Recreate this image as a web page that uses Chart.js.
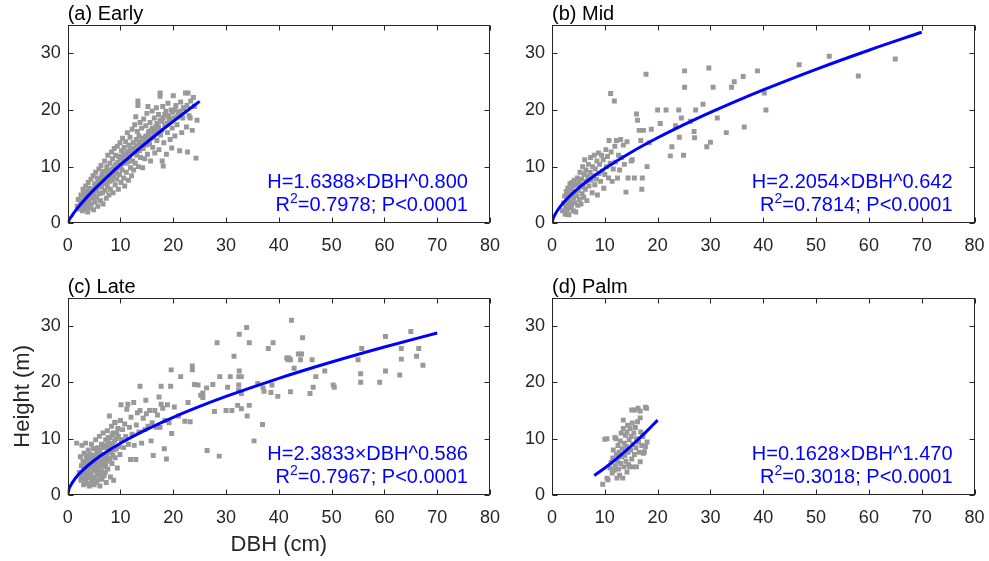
<!DOCTYPE html>
<html>
<head>
<meta charset="utf-8">
<title>Height-DBH allometry</title>
<script src="https://cdn.jsdelivr.net/npm/chart.js@4.4.1/dist/chart.umd.min.js"></script>
<style>
  body { margin: 0; background: #fff; overflow: hidden; }
  canvas { position: absolute; }
</style>
</head>
<body>
<canvas id="early" width="500" height="262" style="left:0;top:0;width:500px;height:262px"></canvas>
<canvas id="mid" width="489" height="262" style="left:500px;top:0;width:489px;height:262px"></canvas>
<canvas id="late" width="500" height="299" style="left:0;top:262px;width:500px;height:299px"></canvas>
<canvas id="palm" width="489" height="299" style="left:500px;top:262px;width:489px;height:299px"></canvas>
<script>
// --- tick labels and text ---
const dbhTicks = [0, 10, 20, 30, 40, 50, 60, 70, 80];
const heightTicks = [0, 10, 20, 30];
const panelTitles = ['(a) Early', '(b) Mid', '(c) Late', '(d) Palm'];
const fitEquations = ['H=1.6388\u00D7DBH^0.800', 'H=2.2054\u00D7DBH^0.642', 'H=2.3833\u00D7DBH^0.586', 'H=0.1628\u00D7DBH^1.470'];
const fitStats = ['=0.7978; P<0.0001', '=0.7814; P<0.0001', '=0.7967; P<0.0001', '=0.3018; P<0.0001'];

// --- (a) Early ---
const earlyDbh = [
  1.8,2.0,2.2,2.4,2.5,2.6,2.8,2.9,3.0,3.0, 3.2,3.3,3.4,3.5,3.6,3.7,3.8,3.9,4.0,4.1, 4.2,4.3,4.4,4.5,4.6,4.7,4.8,4.9,
  5.0,5.1,5.2,5.3,5.4,5.5,5.6,5.7,5.8,5.9, 6.0,6.1,6.2,6.3,6.4,6.5,6.6,6.7,6.8,6.9, 7.0,7.1,7.2,7.3,7.4,7.5,7.6,7.7,7.8,7.9,
  8.0,8.1,8.2,8.3,8.4,8.5,8.6,8.7,8.8,8.9, 9.0,9.1,9.2,9.3,9.4,9.5,9.6,9.7,9.8,9.9, 10.0,10.1,10.2,10.3,10.4,10.5,10.6,10.7,10.8,10.9,
  11.0,11.1,11.2,11.3,11.4,11.5,11.6,11.7,11.8,11.9, 12.0,12.1,12.2,12.3,12.4,12.5,12.6,12.7,12.8,12.9, 13.0,13.1,13.2,13.3,13.3,13.4,13.5,13.6,13.7,13.8, 13.9,
  14.0,14.2,14.3,14.4,14.5,14.6,14.8,14.9,15.0,15.1, 15.2,15.3,15.5,15.6,15.7,15.9,16.0,16.1,16.3,16.4, 16.5,16.7,16.8,16.9,
  17.0,17.2,17.3,17.5,17.5,17.6,17.8,17.9,18.0,18.1, 18.2,18.4,18.6,18.7,18.9,19.0,19.2,19.4,19.6,19.7, 19.8,
  20.0,20.1,20.3,20.5,20.7,21.0,21.2,21.4,21.6,21.8, 22.0,22.3,22.5,22.7,22.8,23.0,23.3,23.6,24.0,24.3, 24.5,
  2.3,2.7,3.1,3.4,3.8,4.2,4.5,4.8,5.2,5.5, 5.8,6.1,6.4,6.7,7.0,7.3,7.6,7.9,8.2,8.5,
  8.8,9.1,9.4,9.7,10.0,10.3,10.6,10.9,11.2,11.5, 11.8,12.1,12.4,12.7,13.0,13.3,13.6,13.9,14.2,14.5,
  14.8,15.1,15.4,15.7,16.0,16.3,16.6,16.9,17.2,17.5, 17.8,18.1,18.4,18.8,19.1,19.5,19.9,20.3,20.8,21.3,
  21.9,22.6,23.2,23.8
];
const earlyHeight = [
  3.0,4.2,2.5,3.4,5.0,4.0,2.2,6.0,3.1,5.2, 4.0,2.6,6.6,4.6,3.4,5.6,2.0,7.2,4.0,6.2, 2.8,5.0,7.8,3.4,6.0,4.4,8.4,2.4,
  5.4,7.0,3.8,9.0,6.2,4.6,8.0,3.0,6.8,9.6, 5.2,7.6,4.0,10.2,6.4,8.6,5.4,3.4,9.2,7.2, 11.0,5.8,8.0,4.4,10.0,6.6,12.0,8.8,5.0,7.4,
  10.6,6.0,9.4,12.6,7.6,11.4,5.4,8.4,13.2,10.0, 6.8,12.0,9.0,7.8,13.6,10.8,6.0,11.8,8.6,14.2, 10.2,7.2,12.8,9.4,15.0,11.2,8.0,13.4,6.6,10.6,
  14.4,9.0,12.2,16.0,10.8,7.6,13.8,11.6,15.2,9.8, 12.8,8.4,16.6,11.0,14.2,9.4,13.0,17.4,10.6,18.8, 14.8,12.0,16.2,21.6,20.8,10.0,15.4,12.8,17.8,11.6, 14.0,
  16.8,9.8,13.2,18.4,15.0,11.4,17.2,13.8,19.4,12.2, 20.6,15.8,14.0,17.8,11.0,16.4,19.8,13.4,15.2,18.6, 12.4,17.0,20.4,14.6,
  16.2,19.2,13.0,23.0,22.4,15.6,18.0,11.0,20.6,10.1, 14.2,17.2,19.8,12.2,16.0,21.2,18.4,14.8,20.0,13.3, 16.8,
  22.5,18.6,15.4,20.8,17.4,19.6,12.8,21.4,16.0,18.6, 20.2,23.0,17.0,12.6,23.0,19.0,21.6,16.4,20.6,11.5, 18.2,
  3.0,3.6,4.4,3.8,5.2,4.6,5.6,5.0,6.4,5.8, 7.4,6.6,7.8,7.0,8.2,7.0,9.2,8.4,8.0,9.6,
  8.8,10.4,9.8,10.0,11.6,10.6,12.0,11.0,12.6,11.8, 13.0,12.4,13.2,12.6,13.8,13.0,14.4,13.6,15.0,14.2,
  15.4,14.6,16.2,15.0,16.8,16.0,16.4,17.6,17.0,18.2, 16.4,18.6,19.2,17.6,19.0,18.0,19.6,20.0,18.8,19.8,
  20.4,20.8,18.6,22.2
];
const earlyFitDbh = [0, 0.25, 0.5, 1, 2, 3, 4, 5, 6, 8, 10, 12, 14, 16, 18, 20, 22, 25];
const earlyFitHeight = [0, 0.54, 0.94, 1.64, 2.85, 3.95, 4.97, 5.94, 6.87, 8.65, 10.34, 11.96, 13.53, 15.06, 16.55, 18.00, 19.43, 21.52];

// --- (b) Mid ---
const midDbh = [
  2.0,2.2,2.4,2.5,2.6,2.7,2.8,2.9,3.0,3.0, 3.1,3.2,3.3,3.4,3.5,3.5,3.6,3.7,3.8,3.9,
  4.0,4.0,4.1,4.2,4.3,4.4,4.5,4.6,4.7,4.8, 4.9,5.0,5.1,5.2,5.3,5.4,5.5,5.6,5.7,5.8,
  5.9,6.0,6.1,6.2,6.3,6.4,6.5,6.6,6.8,6.9, 7.0,7.2,7.3,7.4,7.6,7.7,7.8,8.0,8.1,8.2,
  8.4,8.5,8.6,8.8,8.9,9.0,9.2,9.4,9.5,9.7, 9.8,10.0,10.2,10.3,10.5,10.7,10.8,11.0,11.1,11.2,
  11.4,11.6,11.8,11.9,12.0,12.2,12.4,12.6,12.8,13.0, 13.2,13.5,13.7,14.0,14.2,14.4,15.0,15.2,15.6,16.0,
  16.2,16.5,16.8,17.0,17.1,17.3,17.8,18.0,18.4,18.8, 20.0,20.5,21.6,22.4,22.7,23.4,24.0,24.1,24.5,24.9,
  25.1,25.1,26.2,26.9,27.0,27.2,28.6,29.3,29.7,30.0, 30.5,31.3,33.0,34.0,34.5,36.2,36.4,38.9,40.2,40.5,
  46.8,52.5,58.0,65.0
];
const midHeight = [
  2.2,3.6,4.8,1.6,3.0,5.6,4.2,2.4,6.2,3.4, 4.6,1.5,5.2,7.0,2.8,4.0,6.0,3.2,7.2,5.0,
  2.2,6.6,4.4,7.6,3.6,5.6,2.0,6.8,4.8,8.0, 3.2,5.8,7.2,4.2,9.0,6.4,3.4,7.8,5.2,10.0,
  6.8,4.6,8.6,11.2,6.0,9.4,7.4,4.0,8.2,10.4, 6.6,9.0,11.6,7.6,5.4,10.0,8.4,12.0,6.8,9.6,
  7.8,11.0,5.0,12.4,8.8,10.4,7.4,12.0,9.2,11.2, 6.2,8.6,13.0,10.0,11.8,8.0,14.6,10.6,22.9,12.6,
  7.4,9.6,21.6,13.6,10.8,14.6,8.0,12.0,9.4,14.8, 11.6,13.8,10.4,5.5,14.4,8.0,11.0,11.2,8.0,19.3,
  18.2,16.4,14.6,6.0,8.0,16.4,26.3,10.0,14.2,16.6, 20.0,17.6,20.0,11.9,13.5,17.2,20.0,15.2,18.6,12.0,
  26.9,24.0,18.0,16.2,15.1,20.0,21.0,13.5,27.4,14.3, 24.0,18.6,16.0,24.0,25.0,25.9,17.0,26.9,23.0,20.0,
  28.0,29.5,26.0,29.0
];
const midFitDbh = [0, 0.25, 0.5, 1, 2, 3, 5, 7, 10, 15, 20, 25, 30, 35, 40, 50, 60, 70];
const midFitHeight = [0, 0.91, 1.41, 2.21, 3.44, 4.47, 6.20, 7.69, 9.67, 12.55, 15.10, 17.42, 19.58, 21.62, 23.55, 27.18, 30.55, 33.72];

// --- (c) Late ---
const lateDbh = [
  1.7,2.2,2.4,2.5,2.6,2.7,2.8,2.9,3.0,3.0, 3.1,3.2,3.3,3.4,3.5,3.6,3.7,3.8,3.9,4.0,
  4.0,4.1,4.2,4.3,4.4,4.5,4.6,4.7,4.8,4.9, 5.0,5.0,5.1,5.2,5.3,5.4,5.5,5.6,5.7,5.8,
  5.9,6.0,6.0,6.1,6.2,6.3,6.4,6.5,6.6,6.7, 6.8,6.9,7.0,7.1,7.2,7.3,7.4,7.5,7.6,7.7,
  7.8,7.9,8.0,8.1,8.2,8.3,8.4,8.5,8.6,8.7, 8.8,8.9,9.0,9.0,9.2,9.4,9.5,9.7,9.9,10.0,
  10.1,10.2,10.4,10.6,10.8,11.0,11.2,11.4,11.5,11.7, 11.9,12.0,12.2,12.5,12.6,12.9,13.0,13.2,13.5,13.7,
  13.7,14.0,14.3,14.6,14.8,14.9,15.2,15.5,15.8,16.0, 16.2,16.5,16.8,17.0,17.3,17.5,17.7,17.7,18.0,18.3,
  18.4,18.7,18.9,19.2,19.5,19.6,19.7,20.2,21.0,21.4, 22.2,22.8,23.2,23.6,23.6,24.0,24.7,25.2,25.6,25.6,
  26.3,26.4,27.5,27.8,28.3,28.7,28.8,30.0,30.3,30.8, 31.1,31.5,32.2,32.4,32.4,32.4,32.5,32.5,32.9,32.9,
  32.9,33.9,34.0,34.4,34.4,35.3,36.0,36.9,37.0,37.2, 38.0,38.5,38.7,38.9,39.8,41.5,41.7,41.9,42.2,42.2,
  42.4,42.9,43.7,44.1,44.3,44.5,45.9,46.3,46.5,47.0, 48.7,50.3,50.5,55.0,55.5,55.5,55.7,59.1,60.2,60.2,
  62.9,63.2,63.2,65.0,66.1,66.5,67.3,
  3.2,3.6,4.2,4.6,5.2,5.6,6.2,6.6,7.2,7.8, 3.4,4.4,5.4,5.8,6.8,7.6,8.0,8.4,9.2,9.6,
  2.6,2.9,3.1,3.3,3.5,3.7,3.9,4.1,4.3,4.5, 4.7,4.9,5.1,5.3,5.5,5.7,5.9,6.1,6.3,6.5,
  6.7,6.9,7.1,7.3,7.5,7.7,8.1,8.5,8.9,9.3
];
const lateHeight = [
  9.2,4.0,6.8,2.6,5.2,8.8,3.4,6.0,1.8,4.6, 7.4,2.8,5.6,9.2,3.8,6.6,2.0,4.8,8.0,3.0,
  6.0,1.6,5.2,7.2,3.6,9.0,2.4,6.4,4.4,8.2, 1.8,5.6,3.2,7.0,9.8,4.2,6.2,2.6,8.4,5.0,
  3.6,7.6,10.4,1.6,6.0,4.2,9.0,2.8,7.2,11.0, 5.0,3.4,8.4,6.2,9.8,2.2,7.0,11.4,4.6,8.8,
  6.4,14.0,10.2,3.2,7.6,12.2,5.6,9.2,11.0,2.6, 8.0,12.8,6.6,12.9,10.0,4.8,11.8,8.6,7.2,13.2,
  16.0,9.8,11.6,8.4,12.6,10.4,15.2,16.1,9.0,12.0, 6.3,13.8,10.8,16.4,8.8,6.3,12.4,14.6,11.2,19.3,
  15.0,9.2,13.6,11.6,16.8,14.4,12.2,15.0,9.6,12.8, 7.0,15.0,12.0,14.2,17.4,12.0,19.3,16.1,15.4,8.2,
  13.2,6.4,16.0,12.8,19.3,22.2,10.9,15.6,14.0,21.0, 13.1,16.4,13.0,22.9,22.2,19.6,19.5,17.7,17.3,18.1,
  19.0,7.9,19.6,14.8,27.0,6.9,21.0,15.0,19.1,21.0, 15.0,24.6,15.9,21.0,19.5,18.6,28.5,22.0,21.0,18.0,
  15.3,29.7,14.0,27.0,15.9,9.6,19.8,12.5,19.0,18.4, 26.0,18.2,19.5,27.0,17.5,24.3,24.0,24.3,24.0,18.3,
  31.0,22.5,25.0,24.0,25.0,27.9,18.0,24.0,19.1,21.0, 22.0,19.5,19.1,24.0,21.5,20.0,26.0,20.0,28.1,22.0,
  21.3,26.0,24.1,29.0,24.6,26.0,23.0,
  4.2,5.0,3.8,5.4,4.6,5.8,3.0,5.8,5.2,8.0, 2.2,2.0,2.2,7.2,6.8,9.6,6.4,10.6,8.2,10.4,
  3.0,4.0,5.8,3.6,7.0,4.2,5.4,3.4,6.4,4.8, 3.0,6.8,5.0,2.4,7.6,4.0,6.4,8.0,3.4,5.4,
  8.6,6.0,4.0,8.8,6.0,10.2,8.6,7.0,9.6,11.0
];
const lateFitDbh = [0, 0.25, 0.5, 1, 2, 3, 5, 7, 10, 15, 20, 25, 30, 40, 50, 60, 70];
const lateFitHeight = [0, 1.06, 1.59, 2.38, 3.58, 4.54, 6.12, 7.45, 9.19, 11.65, 13.79, 15.72, 17.49, 20.70, 23.59, 26.25, 28.73];

// --- (d) Palm ---
const palmDbh = [
  9.6,10.0,10.4,10.4,10.6,11.0,11.2,11.4,11.5,11.6, 11.8,11.9,12.0,12.1,12.2,12.3,12.4,12.5,12.6,12.7,
  12.8,12.9,13.0,13.1,13.2,13.3,13.4,13.5,13.5,13.6, 13.7,13.8,13.9,14.0,14.1,14.2,14.2,14.3,14.4,14.5,
  14.6,14.7,14.8,14.9,15.0,15.1,15.1,15.2,15.3,15.4, 15.5,15.6,15.7,15.8,15.9,16.0,16.0,16.2,16.3,16.4,
  16.5,16.7,16.7,16.7,16.8,17.0,17.2,17.3,17.5,17.7, 17.7,17.9,18.0
];
const palmHeight = [
  1.9,9.9,3.0,10.0,2.7,4.8,5.8,3.9,6.6,8.0, 4.4,10.2,5.2,10.0,7.2,3.0,6.0,8.8,4.6,7.6,
  3.5,9.6,5.6,11.0,6.8,8.2,3.0,13.3,11.8,5.0, 9.2,7.0,10.6,6.0,8.6,4.1,11.2,12.4,7.6,5.4,
  9.8,5.0,11.8,8.0,10.4,15.1,6.4,12.8,9.0,5.0, 11.0,7.2,15.1,12.0,8.4,10.0,5.0,13.0,15.4,9.4,
  7.6,14.9,13.7,5.9,11.2,8.8,10.4,7.4,7.7,8.6, 15.6,15.4,9.4
];
const palmFitDbh = [8, 10, 12, 14, 16, 18, 20];
const palmFitHeight = [3.46, 4.80, 6.28, 7.88, 9.59, 11.40, 13.31];

const FONT = '"Liberation Sans", Arial, Helvetica, sans-serif';
const INK = '#262626';

const toPoints = (xs, ys) => xs.map((x, i) => ({ x: x, y: ys[i] }));

// box, inward ticks, panel title and fit text
const panelDecor = {
    id: 'panelDecor',
    afterDraw(chart, args, opts) {
        const { ctx, chartArea: a, scales: { x, y } } = chart;
        const L = Math.round(a.left) + 0.5, R = Math.round(a.right) - 0.5;
        const T = Math.round(a.top) + 0.5, B = Math.round(a.bottom) - 0.5;
        ctx.save();
        ctx.strokeStyle = INK;
        ctx.lineWidth = 1;
        ctx.strokeRect(L, T, R - L, B - T);
        ctx.beginPath();
        x.ticks.forEach(t => {
            const px = Math.round(x.getPixelForValue(t.value)) + 0.5;
            ctx.moveTo(px, B); ctx.lineTo(px, B - 5);
            ctx.moveTo(px, T); ctx.lineTo(px, T + 5);
        });
        y.ticks.forEach(t => {
            const py = Math.round(y.getPixelForValue(t.value)) + 0.5;
            ctx.moveTo(L, py); ctx.lineTo(L + 5, py);
            ctx.moveTo(R, py); ctx.lineTo(R - 5, py);
        });
        ctx.stroke();

        ctx.fillStyle = '#000';
        ctx.font = '20px ' + FONT;
        ctx.textAlign = 'left';
        ctx.textBaseline = 'alphabetic';
        ctx.fillText(opts.title, a.left, a.top - 5);

        // equation, right aligned inside the plot
        const right = a.right - 22;
        ctx.fillStyle = '#0000ff';
        ctx.textAlign = 'right';
        ctx.fillText(opts.equation, right, a.bottom - 35);
        const restW = ctx.measureText(opts.stats).width;
        const rW = ctx.measureText('R').width;
        ctx.font = '14px ' + FONT;
        const supW = ctx.measureText('2').width;
        ctx.textAlign = 'left';
        const x0 = right - restW - supW - rW;
        ctx.fillText('2', x0 + rW, a.bottom - 20);
        ctx.font = '20px ' + FONT;
        ctx.fillText('R', x0, a.bottom - 12);
        ctx.fillText(opts.stats, x0 + rW + supW, a.bottom - 12);
        ctx.restore();
    }
};

function makePanel(id, idx, dbh, height, fitDbh, fitHeight, box) {
    const ctx = document.getElementById(id).getContext('2d');
    return new Chart(ctx, {
        type: 'scatter',
        data: {
            datasets: [{
                data: toPoints(fitDbh, fitHeight),
                showLine: true,
                borderColor: '#0000ff',
                borderWidth: 3,
                pointRadius: 0,
                cubicInterpolationMode: 'monotone',
                fill: false,
                order: 0
            }, {
                data: toPoints(dbh, height),
                pointStyle: 'rect',
                pointRadius: 3.5,
                backgroundColor: '#999999',
                borderWidth: 0,
                order: 1
            }]
        },
        options: {
            responsive: false,
            animation: false,
            events: [],
            layout: { padding: { left: 0, top: box.top, right: box.right, bottom: 0 } },
            scales: {
                x: {
                    type: 'linear', min: 0, max: 80,
                    // tick marks are drawn by panelDecor; tickLength only pushes labels down
                    grid: { display: false, drawTicks: true, tickLength: 12 },
                    border: { display: false },
                    ticks: { padding: 0, maxRotation: 0, autoSkip: false, color: INK, font: { family: FONT, size: 18 } },
                    afterBuildTicks: s => { s.ticks = dbhTicks.map(v => ({ value: v })); },
                    afterFit: s => { s.height = box.xHeight; },
                    title: {
                        display: !!box.xTitle, text: box.xTitle || '', color: INK,
                        font: { family: FONT, size: 22 }, padding: { top: 0, bottom: 3 }
                    }
                },
                y: {
                    type: 'linear', min: 0, max: 35,
                    grid: { display: false, drawTicks: false },
                    border: { display: false },
                    ticks: { padding: 7, color: INK, font: { family: FONT, size: 18 } },
                    afterBuildTicks: s => { s.ticks = heightTicks.map(v => ({ value: v })); },
                    afterFit: s => { s.width = box.yWidth; },
                    title: {
                        display: !!box.yTitle, text: box.yTitle || '', color: INK,
                        font: { family: FONT, size: 22 }, padding: { top: 10, bottom: 0 }
                    }
                }
            },
            plugins: {
                legend: { display: false },
                tooltip: { enabled: false },
                panelDecor: { title: panelTitles[idx], equation: fitEquations[idx], stats: fitStats[idx] }
            }
        },
        plugins: [panelDecor]
    });
}

makePanel('early', 0, earlyDbh, earlyHeight, earlyFitDbh, earlyFitHeight,
    { top: 25, right: 10, yWidth: 67.7, xHeight: 262 - 223.3 });
makePanel('mid', 1, midDbh, midHeight, midFitDbh, midFitHeight,
    { top: 25, right: 14.5, yWidth: 52, xHeight: 262 - 223.3 });
makePanel('late', 2, lateDbh, lateHeight, lateFitDbh, lateFitHeight,
    { top: 35.7, right: 10, yWidth: 67.7, xHeight: 66, xTitle: 'DBH (cm)', yTitle: 'Height (m)' });
makePanel('palm', 3, palmDbh, palmHeight, palmFitDbh, palmFitHeight,
    { top: 36, right: 14.5, yWidth: 52, xHeight: 66 });
</script>
</body>
</html>
